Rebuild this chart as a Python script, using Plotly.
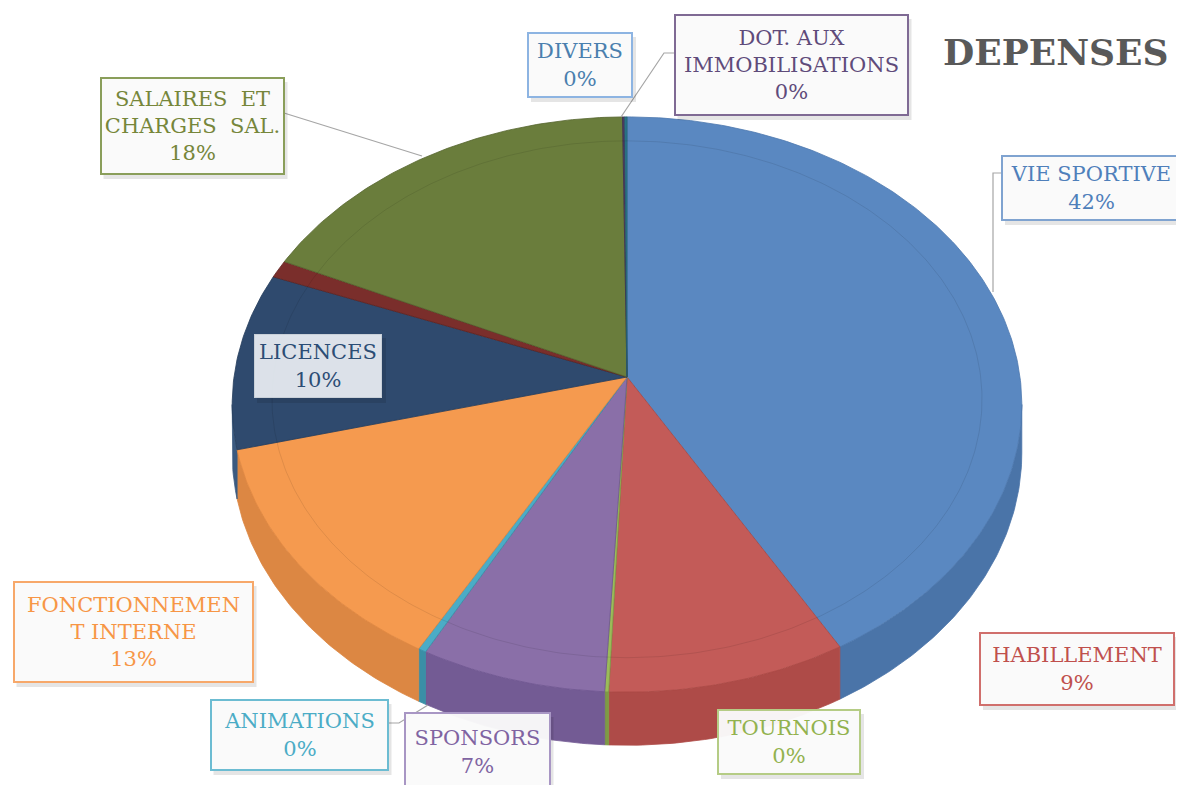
import numpy as np
import plotly.graph_objects as go

# ---- data ----
categories = ["VIE SPORTIVE", "HABILLEMENT", "TOURNOIS", "SPONSORS", "ANIMATIONS",
              "FONCTIONNEMENT INTERNE", "LICENCES", "(sans libellé)",
              "SALAIRES ET CHARGES SAL.", "DOT. AUX IMMOBILISATIONS", "DIVERS"]
values = [42, 9, 0.15, 7, 0.3, 13, 10, 1, 18, 0.1, 0.1]
pct_labels = ["42%", "9%", "0%", "7%", "0%", "13%", "10%", "", "18%", "0%", "0%"]
label_text = ["VIE SPORTIVE", "HABILLEMENT", "TOURNOIS", "SPONSORS", "ANIMATIONS",
              "FONCTIONNEMEN<br>T INTERNE", "LICENCES", "",
              "SALAIRES  ET<br>CHARGES  SAL.", "DOT. AUX<br>IMMOBILISATIONS", "DIVERS"]

# ---- styles ----
top_colors = ["#5A88C1", "#C35B58", "#9BBB59", "#8A6FA8", "#4BACC6", "#F59A4F",
              "#2F4A6E", "#7A2E2B", "#6A7D3C", "#4D3B62", "#2C7A8E"]
wall_colors = ["#4A74A8", "#AE4B48", "#7E9A45", "#735B94", "#3A8FA6", "#DC8743",
               "#3B5A80", "#5E2220", "#55652F", "#3E2F50", "#226070"]
edge_colors = ["#4E79AE", "#A94744", "#7E9A45", "#6E5690", "#3A8FA6", "#E0873F",
               "#263E5C", "#5E2220", "#55652F", "#3E2F50", "#226070"]
text_colors = ["#4F7FBA", "#C0504D", "#92B24E", "#8064A2", "#4BACC6", "#F79646",
               "#2C4D75", "#772C2A", "#76863A", "#5F4B7A", "#4A7FAE"]
border_colors = ["#7FA3D0", "#D06F6C", "#B5CC85", "#A896C4", "#6CBCD2", "#F7A86A",
                 "#C9D0D8", "#772C2A", "#8A9E5A", "#7F6A94", "#8DB4E2"]
# box geometry (centre x, centre y, width, height) in page pixels
boxes = [(1091, 188, 178, 64), (1077, 669, 194, 72), (789, 742, 142, 64),
         (477, 752, 145, 78), (299, 735, 177, 70), (133, 632, 239, 100),
         (318, 366, 128, 64), None, (192, 126, 183, 96), (791, 65, 233, 100),
         (580, 65, 104, 64)]
leaders = {
    0: [(1002, 173), (993, 173), (993, 292)],
    4: [(388, 723), (399, 723), (428, 705)],
    8: [(284, 113), (422, 156)],
    9: [(675, 53), (664, 53), (621, 117)],
}

W, H = 1184, 785
OFF = 8  # default page body margin
# perspective pie geometry
cx, apex_y, A, B, k, depth = 627, 377, 393, 285, 0.0957, 48


def proj(t, dy=0.0):
    u, v = np.sin(t), -np.cos(t)
    s = 1.0 / (1.0 - k * v)
    return cx + A * u * s, apex_y + B * v * s + dy * s


def arc(t0, t1, dy=0.0):
    n = max(3, int(abs(t1 - t0) / (2 * np.pi) * 500))
    t = np.linspace(t0, t1, n)
    return proj(t, dy)


vals = np.array(values, dtype=float)
cum = np.concatenate([[0], np.cumsum(vals)]) / vals.sum() * 2 * np.pi

fig = go.Figure()

# side walls (front part of the rim)
t_lo = np.arccos(-k)
t_hi = 2 * np.pi - t_lo
for i in range(len(vals)):
    a0, a1 = max(cum[i], t_lo), min(cum[i + 1], t_hi)
    if a1 <= a0:
        continue
    xt, yt = arc(a0, a1)
    xb, yb = arc(a0, a1, depth)
    xs = np.concatenate([xt, xb[::-1], xt[:1]])
    ys = np.concatenate([yt, yb[::-1], yt[:1]])
    fig.add_trace(go.Scatter(x=xs, y=ys, fill="toself", mode="lines",
                             fillcolor=wall_colors[i],
                             line=dict(color=wall_colors[i], width=0.8),
                             hoverinfo="skip", showlegend=False))

# top faces
for i in range(len(vals)):
    xt, yt = arc(cum[i], cum[i + 1])
    xs = np.concatenate([[cx], xt, [cx]])
    ys = np.concatenate([[apex_y], yt, [apex_y]])
    fig.add_trace(go.Scatter(x=xs, y=ys, fill="toself", mode="lines",
                             fillcolor=top_colors[i],
                             line=dict(color=edge_colors[i], width=0.8),
                             name=categories[i], hoverinfo="name",
                             showlegend=False))

# faint bevel ring on top face
tb = np.linspace(0, 2 * np.pi, 500)
ub, vb = 0.9 * np.sin(tb), -0.9 * np.cos(tb)
sb = 1.0 / (1.0 - k * vb)
fig.add_trace(go.Scatter(x=cx + A * ub * sb, y=apex_y + B * vb * sb,
                         mode="lines", line=dict(color="rgba(0,0,0,0.09)", width=1),
                         hoverinfo="skip", showlegend=False))

# leader lines
for i, pts in leaders.items():
    fig.add_trace(go.Scatter(x=[p[0] for p in pts], y=[p[1] for p in pts], mode="lines",
                             line=dict(color="#A6A6A6", width=1.2),
                             hoverinfo="skip", showlegend=False))

shapes = []
annotations = []
for i, b in enumerate(boxes):
    if b is None:
        continue
    bx, by, bw, bh = b
    shapes.append(dict(type="rect", xref="x", yref="y",
                       x0=bx - bw / 2 + 3, x1=bx + bw / 2 + 4,
                       y0=by - bh / 2 + 4, y1=by + bh / 2 + 5,
                       fillcolor="rgba(0,0,0,0.10)", line=dict(width=0), layer="above"))
    bg = "rgba(234,238,243,0.93)" if i == 6 else "rgba(250,250,250,0.97)"
    annotations.append(dict(
        x=bx, y=by, xref="x", yref="y", xanchor="center", yanchor="middle",
        text=label_text[i] + "<br>" + pct_labels[i], showarrow=False,
        font=dict(family="DejaVu Serif", size=21, color=text_colors[i]),
        align="center", width=bw - 6, height=bh - 6, borderpad=2,
        bgcolor=bg, bordercolor=border_colors[i], borderwidth=2 if i != 6 else 1,
    ))

annotations.append(dict(x=1056, y=52, xref="x", yref="y", xanchor="center",
                        yanchor="middle", text="<b>DEPENSES</b>", showarrow=False,
                        font=dict(family="DejaVu Serif", size=36, color="#595959")))

fig.update_layout(
    width=W, height=H, margin=dict(l=0, r=0, t=0, b=0),
    paper_bgcolor="white", plot_bgcolor="white",
    xaxis=dict(range=[OFF, W + OFF], visible=False, fixedrange=True),
    yaxis=dict(range=[H + OFF, OFF], visible=False, fixedrange=True),
    shapes=shapes, annotations=annotations,
)

fig.write_html("out.html")
